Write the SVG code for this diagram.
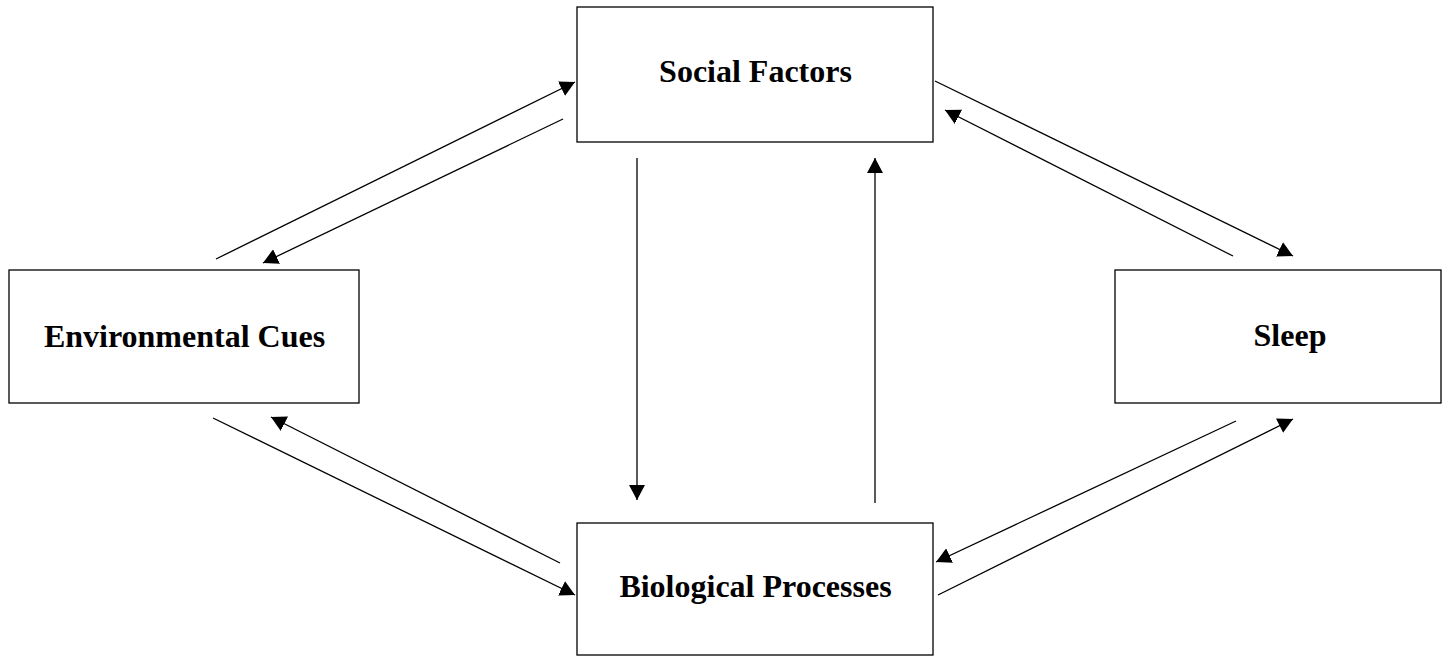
<svg xmlns="http://www.w3.org/2000/svg" width="1449" height="657" viewBox="0 0 1449 657">
<style>
.box{fill:#fff;stroke:#000;stroke-width:1.3}
.lbl{font-family:"Liberation Serif","Times New Roman",serif;font-weight:bold;font-size:32px;fill:#000;text-anchor:middle}
.conn line{stroke:#000;stroke-width:1.3;marker-end:url(#ah)}
</style>
<defs>
<marker id="ah" markerUnits="userSpaceOnUse" markerWidth="16" markerHeight="16" refX="15" refY="8" orient="auto" viewBox="0 0 16 16">
<path d="M0,0 L15,8 L0,16 z" fill="#000"/>
</marker>
</defs>
<rect width="1449" height="657" fill="#fff"/>
<g id="social-factors"><rect class="box" x="577" y="7" width="356" height="135"/><text class="lbl" x="755.5" y="82">Social Factors</text></g>
<g id="environmental-cues"><rect class="box" x="9" y="270" width="350" height="133"/><text class="lbl" x="184.5" y="347">Environmental Cues</text></g>
<g id="sleep"><rect class="box" x="1115" y="270" width="326" height="133"/><text class="lbl" x="1290" y="346">Sleep</text></g>
<g id="biological-processes"><rect class="box" x="577" y="523" width="356" height="132"/><text class="lbl" x="755.5" y="597">Biological Processes</text></g>
<g id="connectors" class="conn">
<line x1="216" y1="259" x2="575" y2="82"/>
<line x1="563" y1="119" x2="263" y2="263"/>
<line x1="935" y1="81" x2="1293" y2="256"/>
<line x1="1233" y1="256" x2="945" y2="110"/>
<line x1="213" y1="418" x2="575" y2="595"/>
<line x1="560" y1="563" x2="271" y2="417"/>
<line x1="1236" y1="421" x2="936" y2="562"/>
<line x1="938" y1="595" x2="1293" y2="419"/>
<line x1="637" y1="158" x2="637" y2="500"/>
<line x1="875" y1="503" x2="875" y2="158"/>
</g>
</svg>
